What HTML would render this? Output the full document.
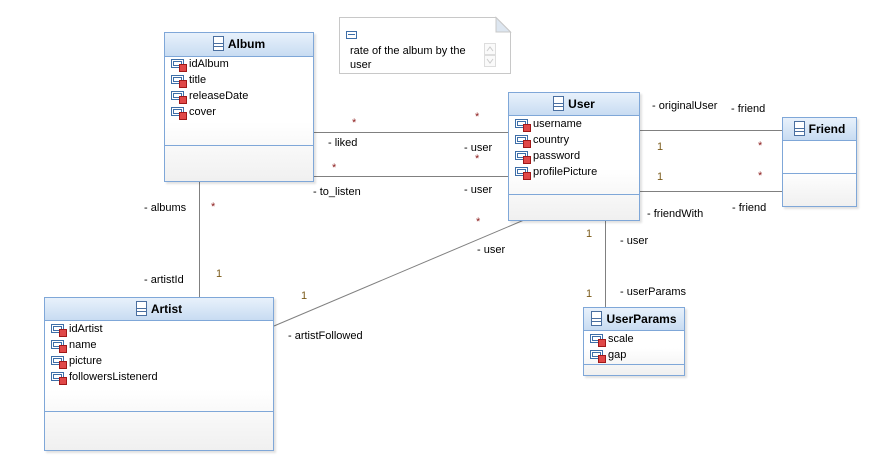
<!DOCTYPE html>
<html><head><meta charset="utf-8"><style>
body{margin:0;width:880px;height:465px;background:#fff;position:relative;overflow:hidden;font-family:"Liberation Sans",sans-serif;font-size:11px;color:#000}
.c{position:absolute;border:1px solid #7fa7d8;background:linear-gradient(#fff 60%,#f0f0f0);box-shadow:2px 2px 2px rgba(0,0,0,.12);box-sizing:border-box}
.h{position:absolute;left:0;right:0;top:0;background:linear-gradient(#e8f1fb,#c8dcf2);border-bottom:1px solid #7fa7d8;text-align:center;font-weight:bold;font-size:12px;line-height:22px}
.h i{display:inline-block;width:11px;height:15px;border:1px solid #4a6fa0;vertical-align:-3px;margin-right:4px;background:linear-gradient(#fff 0 6px,#4a6fa0 6px 7px,#fff 7px 9px,#4a6fa0 9px 10px,#fff 10px);box-sizing:border-box}
.s{position:absolute;left:0;right:0;border-top:1px solid #7fa7d8}
.a{position:absolute;left:6px;line-height:16px;white-space:nowrap}
.a b{display:inline-block;position:relative;width:16px;height:13px;vertical-align:-3px;margin-right:2px}
.a b:before{content:"";position:absolute;left:0;top:2px;width:11px;height:7px;border:1px solid #3d6ea8;box-shadow:inset 0 0 0 1px #fff,inset 0 0 0 2px #3d6ea8}
.a b:after{content:"";position:absolute;left:8px;top:7px;width:6px;height:6px;background:#e04848;border:1px solid #a01818}
.t{position:absolute;white-space:nowrap}
.r{position:absolute;color:#8b1a1a}
.o{position:absolute;color:#7a5a1a}
</style></head><body>
<svg width="880" height="465" style="position:absolute;left:0;top:0">
<g stroke="#808080" stroke-width="1" fill="none">
<line x1="313" y1="132.5" x2="508" y2="132.5"/>
<line x1="313" y1="176.5" x2="508" y2="176.5"/>
<line x1="199.5" y1="181" x2="199.5" y2="297"/>
<line x1="274" y1="326" x2="524" y2="220"/>
<line x1="639" y1="130.5" x2="782" y2="130.5"/>
<line x1="639" y1="191.5" x2="782" y2="191.5"/>
<line x1="605.5" y1="220" x2="605.5" y2="307"/>
</g>
<path d="M339.5 17.5 H496 L510.5 32 V73.5 H339.5 Z" fill="#fff" stroke="#c8c8c8"/>
<path d="M496 17.5 V32 H510.5 Z" fill="#dde6f0" stroke="#c8c8c8"/>
<rect x="346.5" y="31.5" width="10" height="7" fill="#fff" stroke="#3d6ea8"/>
<line x1="348" y1="34.5" x2="355" y2="34.5" stroke="#3d6ea8"/>
<rect x="484.5" y="43.5" width="11" height="11" fill="#fafafa" stroke="#ddd"/>
<rect x="484.5" y="55.5" width="11" height="11" fill="#fafafa" stroke="#ddd"/>
<path d="M487 51 L490 47 L493 51 M487 59 L490 63 L493 59" stroke="#ccc" fill="none"/>
</svg>
<div class="t" style="left:350px;top:44px;line-height:14px">rate of the album by the<br>user</div>

<div class="c" style="left:164px;top:32px;width:150px;height:150px"><div class="h" style="height:23px"><i></i>Album</div>
<div class="a" style="top:23px"><b></b>idAlbum</div><div class="a" style="top:39px"><b></b>title</div><div class="a" style="top:55px"><b></b>releaseDate</div><div class="a" style="top:71px"><b></b>cover</div>
<div class="s" style="top:112px"></div></div>

<div class="c" style="left:508px;top:92px;width:132px;height:129px"><div class="h" style="height:22px"><i></i>User</div>
<div class="a" style="top:23px"><b></b>username</div><div class="a" style="top:39px"><b></b>country</div><div class="a" style="top:55px"><b></b>password</div><div class="a" style="top:71px"><b></b>profilePicture</div>
<div class="s" style="top:101px"></div></div>

<div class="c" style="left:782px;top:117px;width:75px;height:90px"><div class="h" style="height:22px"><i></i>Friend</div>
<div class="s" style="top:55px"></div></div>

<div class="c" style="left:44px;top:297px;width:230px;height:154px"><div class="h" style="height:22px"><i></i>Artist</div>
<div class="a" style="top:23px"><b></b>idArtist</div><div class="a" style="top:39px"><b></b>name</div><div class="a" style="top:55px"><b></b>picture</div><div class="a" style="top:71px"><b></b>followersListenerd</div>
<div class="s" style="top:113px"></div></div>

<div class="c" style="left:583px;top:307px;width:102px;height:69px"><div class="h" style="height:22px"><i></i>UserParams</div>
<div class="a" style="top:23px"><b></b>scale</div><div class="a" style="top:39px"><b></b>gap</div>
<div class="s" style="top:56px"></div></div>

<div class="t" style="left:328px;top:137px">- liked</div>
<div class="t" style="left:464px;top:142px">- user</div>
<div class="t" style="left:313px;top:186px">- to_listen</div>
<div class="t" style="left:464px;top:184px">- user</div>
<div class="t" style="left:144px;top:202px">- albums</div>
<div class="t" style="left:144px;top:274px">- artistId</div>
<div class="t" style="left:477px;top:244px">- user</div>
<div class="t" style="left:288px;top:330px">- artistFollowed</div>
<div class="t" style="left:652px;top:100px">- originalUser</div>
<div class="t" style="left:731px;top:103px">- friend</div>
<div class="t" style="left:647px;top:208px">- friendWith</div>
<div class="t" style="left:732px;top:202px">- friend</div>
<div class="t" style="left:620px;top:235px">- user</div>
<div class="t" style="left:620px;top:286px">- userParams</div>

<div class="r" style="left:352px;top:117px">*</div>
<div class="r" style="left:475px;top:111px">*</div>
<div class="r" style="left:332px;top:162px">*</div>
<div class="r" style="left:475px;top:153px">*</div>
<div class="r" style="left:211px;top:201px">*</div>
<div class="r" style="left:476px;top:216px">*</div>
<div class="r" style="left:758px;top:140px">*</div>
<div class="r" style="left:758px;top:170px">*</div>
<div class="o" style="left:216px;top:268px">1</div>
<div class="o" style="left:301px;top:290px">1</div>
<div class="o" style="left:657px;top:141px">1</div>
<div class="o" style="left:657px;top:171px">1</div>
<div class="o" style="left:586px;top:228px">1</div>
<div class="o" style="left:586px;top:288px">1</div>
</body></html>
